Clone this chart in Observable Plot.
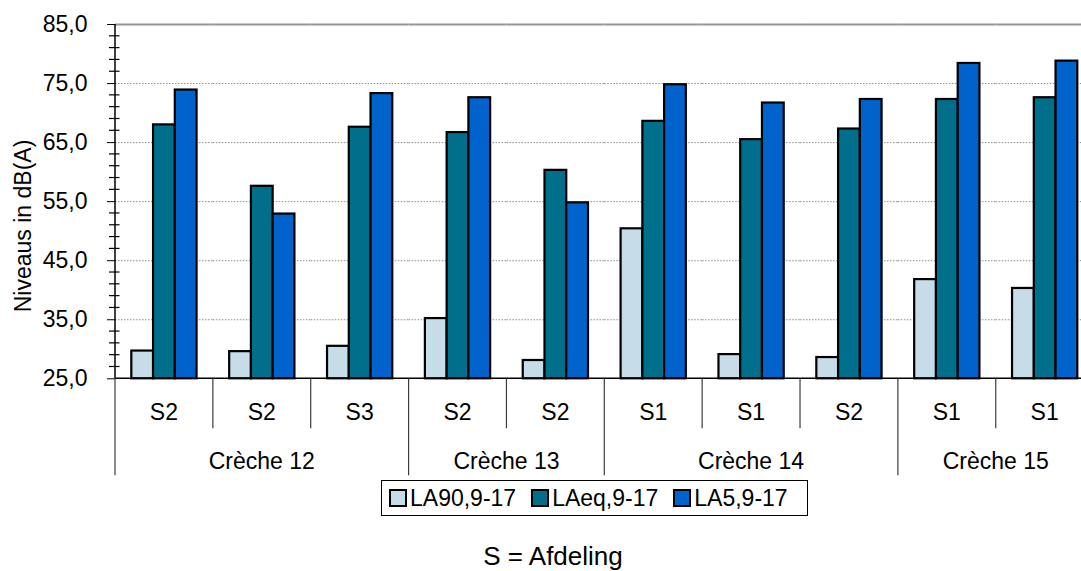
<!DOCTYPE html>
<html>
<head>
<meta charset="utf-8">
<script src="https://cdn.jsdelivr.net/npm/d3@7"></script>
<script src="https://cdn.jsdelivr.net/npm/@observablehq/plot@0.6"></script>
<style>
  html, body { margin: 0; padding: 0; background: #fff; overflow: hidden; }
  #chart { position: relative; width: 1081px; height: 571px; font-family: Arial, "Liberation Sans", sans-serif; color: #000; }
  #legend {
    position: absolute; left: 381px; top: 480px; width: 427px; height: 36px;
    border: 1px solid #000; background: #fff;
    display: flex; align-items: center; padding-left: 7px; box-sizing: border-box;
    font-size: 23px; white-space: nowrap;
  }
  #legend .item { display: flex; align-items: center; margin-right: 15px; }
  #legend .sw { width: 14px; height: 14px; border: 2px solid #000; margin-right: 3px; }
  #caption {
    position: absolute; left: 0; width: 1106px; top: 541px;
    text-align: center; font-size: 26px; line-height: 30px;
  }
</style>
</head>
<body>
<div id="chart"></div>
<script>
// Noise levels per crèche section (dB(A)), daytime 9-17
const creches  = ["Crèche 12", "Crèche 12", "Crèche 12", "Crèche 13", "Crèche 13",
                  "Crèche 14", "Crèche 14", "Crèche 14", "Crèche 15", "Crèche 15"];
const sections = ["S2", "S2", "S3", "S2", "S2", "S1", "S1", "S2", "S1", "S1"];
const series   = ["LA90,9-17", "LAeq,9-17", "LA5,9-17"];
const la90 = [29.7, 29.6, 30.5, 35.2, 28.1, 50.4, 29.1, 28.6, 41.8, 40.3];
const laeq = [68.0, 57.6, 67.6, 66.7, 60.3, 68.6, 65.5, 67.3, 72.3, 72.6];
const la5  = [73.9, 52.9, 73.3, 72.6, 54.8, 74.8, 71.7, 72.3, 78.4, 78.8];
const yMajor = [25, 35, 45, 55, 65, 75, 85];
const yGrid  = [35, 45, 55, 65, 75];
const colors = ["#C6DCE9", "#006F8C", "#0063CC"];
const yTitle = "Niveaus in dB(A)";
const caption = "S = Afdeling";

const slots = sections.map((_, i) => String(i));
const valuesBySeries = [la90, laeq, la5];
const rows = [];
slots.forEach((slot, i) => {
  series.forEach((s, j) => rows.push({slot, series: s, value: valuesBySeries[j][i]}));
});

const fmt = d => d.toFixed(1).replace(".", ",");
const font = "Arial, 'Liberation Sans', sans-serif";

const plot = Plot.plot({
  width: 1081,
  height: 480,
  marginTop: 24,
  marginBottom: 101.7,
  marginLeft: 115,
  marginRight: 0,
  style: {fontFamily: font, fontSize: "23px", background: "white", color: "#000"},
  fx: {domain: slots, range: [115, 1093.6], padding: 0, round: false, axis: null},
  x: {domain: series, paddingInner: 0, paddingOuter: 0.75, round: false, axis: null},
  y: {domain: [25, 85], ticks: yMajor, tickFormat: fmt, tickSize: 8, tickPadding: 20, label: null},
  color: {domain: series, range: colors},
  marks: [
    Plot.ruleY(yGrid, {stroke: "#8c8c8c", strokeWidth: 1, strokeDasharray: "1.5,1.5"}),
    Plot.ruleY([85], {stroke: "#969696", strokeWidth: 2}),
    Plot.barY(rows, {
      fx: "slot", x: "series", y1: 25, y2: "value",
      fill: "series", stroke: "#000", strokeWidth: 2.2, insetLeft: 0, insetRight: 0
    })
  ]
});

// Axis lines, minor ticks and the two-level category axis, placed with the plot's scales
const svg = d3.select(plot);
const ys = plot.scale("y");
const y = d3.scaleLinear(ys.domain, ys.range);
const fs = plot.scale("fx");
const fx = d3.scaleBand(fs.domain, fs.range).padding(0);
const xEnd = fs.range[1];
const g = svg.append("g").attr("font-family", font).attr("fill", "#000");

// minor ticks every 2 dB, crossing the axis
d3.range(27, 85, 2).filter(v => (v - 25) % 10 !== 0).forEach(v => {
  g.append("line").attr("x1", 109).attr("x2", 119.5)
    .attr("y1", y(v)).attr("y2", y(v)).attr("stroke", "#000").attr("stroke-width", 1.2);
});
// vertical and horizontal axis lines
g.append("line").attr("x1", 115).attr("x2", 115).attr("y1", y(25)).attr("y2", y(85))
  .attr("stroke", "#000").attr("stroke-width", 1.5);
g.append("line").attr("x1", 115).attr("x2", xEnd).attr("y1", y(25)).attr("y2", y(25))
  .attr("stroke", "#000").attr("stroke-width", 1.5);

// separators between sections; crèche boundaries run down further
const y0 = y(25);
for (let i = 0; i <= slots.length; i++) {
  const x = i < slots.length ? fx(slots[i]) : xEnd;
  const isGroup = i === 0 || i === slots.length || creches[i] !== creches[i - 1];
  g.append("line").attr("x1", x).attr("x2", x)
    .attr("y1", y0).attr("y2", y0 + (isGroup ? 97 : 50))
    .attr("stroke", "#3c3c3c").attr("stroke-width", 1.2);
}
// section labels
slots.forEach((slot, i) => {
  g.append("text").attr("x", fx(slot) + fx.bandwidth() / 2).attr("y", y0 + 41.7)
    .attr("text-anchor", "middle").attr("font-size", 23).text(sections[i]);
});
// crèche labels centred under their sections
d3.groups(slots.map((slot, i) => ({slot, creche: creches[i]})), d => d.creche).forEach(([name, items]) => {
  const a = fx(items[0].slot), b = fx(items[items.length - 1].slot) + fx.bandwidth();
  g.append("text").attr("x", (a + b) / 2).attr("y", y0 + 90.7)
    .attr("text-anchor", "middle").attr("font-size", 23).text(name);
});
// y-axis title
g.append("text").attr("transform", "translate(31,226) rotate(-90)")
  .attr("text-anchor", "middle").attr("font-size", 23).text(yTitle);

const chart = document.getElementById("chart");
chart.appendChild(plot);

// legend
const legend = document.createElement("div");
legend.id = "legend";
series.forEach((s, j) => {
  const item = document.createElement("div");
  item.className = "item";
  const sw = document.createElement("span");
  sw.className = "sw";
  sw.style.background = colors[j];
  const label = document.createElement("span");
  label.textContent = s;
  item.appendChild(sw);
  item.appendChild(label);
  legend.appendChild(item);
});
chart.appendChild(legend);

const cap = document.createElement("div");
cap.id = "caption";
cap.textContent = caption;
chart.appendChild(cap);
</script>
</body>
</html>
